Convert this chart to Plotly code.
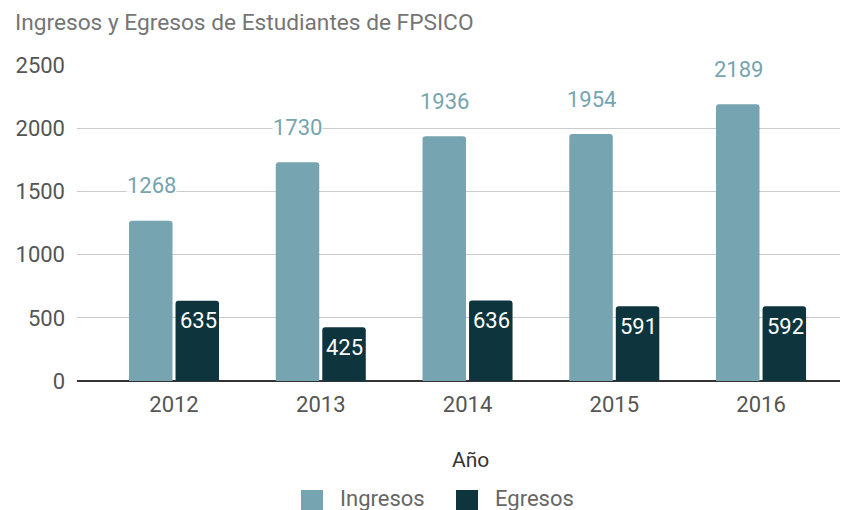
import plotly.graph_objects as go

years = ["2012", "2013", "2014", "2015", "2016"]
ingresos = [1268, 1730, 1936, 1954, 2189]
egresos = [635, 425, 636, 591, 592]

C_ING = "#76a4b0"
C_EGR = "#0e353d"
FONT = "Roboto"

OFF = 8  # page body margin of the rendered html
W, H = 852 - OFF, 510 - OFF
# plot area in reference pixel coords: x 77..840, y 65..381
L = 77 - OFF
T = 65 - OFF
R = W - (840 - OFF)
B = H - (381 - OFF)
PW, PH = W - L - R, H - T - B


def px(x):
    return (x - OFF - L) / PW


def py(y):
    return (H - B - (y - OFF)) / PH


fig = go.Figure()
fig.add_trace(go.Bar(name="Ingresos", x=years, y=ingresos, marker_color=C_ING,
                     marker_line_width=0, hoverinfo="skip", showlegend=False))
fig.add_trace(go.Bar(name="Egresos", x=years, y=egresos, marker_color=C_EGR,
                     marker_line_width=0, hoverinfo="skip", showlegend=False))

annotations = []
for i, v in enumerate(ingresos):
    annotations.append(dict(x=i, y=v, xref="x", yref="y", text=str(v), showarrow=False,
                            xshift=-23, yshift=35, bgcolor="rgba(255,255,255,0.85)", borderpad=0,
                            font=dict(family=FONT, size=22, color=C_ING)))
for i, v in enumerate(egresos):
    annotations.append(dict(x=i, y=v, xref="x", yref="y", text=str(v), showarrow=False,
                            xshift=24, yshift=-20,
                            font=dict(family=FONT, size=22, color="white")))

# legend (drawn manually to match large square swatches)
shapes = []
legend_items = [("Ingresos", C_ING, 301, 338), ("Egresos", C_EGR, 456, 493)]
for name, col, sx, tx in legend_items:
    shapes.append(dict(type="rect", xref="paper", yref="paper",
                       x0=px(sx), x1=px(sx + 22), y0=py(490), y1=py(510),
                       fillcolor=col, line_width=0, layer="above"))
    annotations.append(dict(x=px(tx), y=py(498), xref="paper", yref="paper", text=name,
                            showarrow=False, xanchor="left", yanchor="middle",
                            font=dict(family=FONT, size=22, color="#666666")))

annotations.append(dict(x=px(470), y=py(460), xref="paper", yref="paper", text="Año",
                        showarrow=False, xanchor="center", yanchor="middle",
                        font=dict(family=FONT, size=21, color="#333333")))

fig.update_layout(
    width=W, height=H,
    margin=dict(l=L, r=R, t=T, b=B, autoexpand=False),
    paper_bgcolor="white", plot_bgcolor="white",
    barmode="group", bargap=0.366, bargroupgap=0.065, barcornerradius=3,
    title=dict(text="Ingresos y Egresos de Estudiantes de FPSICO", x=(15 - OFF) / W, xanchor="left",
               xref="container", y=1 - (22 - OFF) / H, yanchor="middle", yref="container",
               font=dict(family=FONT, size=22.7, color="#757575")),
    font=dict(family=FONT, size=22, color="#555555"),
    showlegend=False,
    annotations=annotations,
    shapes=shapes,
)
fig.update_xaxes(type="category", range=[-0.661, 4.538], showgrid=False, showline=False,
                 ticks="", automargin=False, ticklabelstandoff=8,
                 tickfont=dict(family=FONT, size=22, color="#555555"))
fig.update_yaxes(range=[0, 2500], tickvals=[0, 500, 1000, 1500, 2000, 2500], showgrid=True,
                 gridcolor="#cccccc", gridwidth=1, zeroline=True, zerolinecolor="#333333",
                 zerolinewidth=2, showline=False, ticks="", ticklabelstandoff=11,
                 automargin=False,
                 tickfont=dict(family=FONT, size=22, color="#555555"))

fig.write_html("out.html")
